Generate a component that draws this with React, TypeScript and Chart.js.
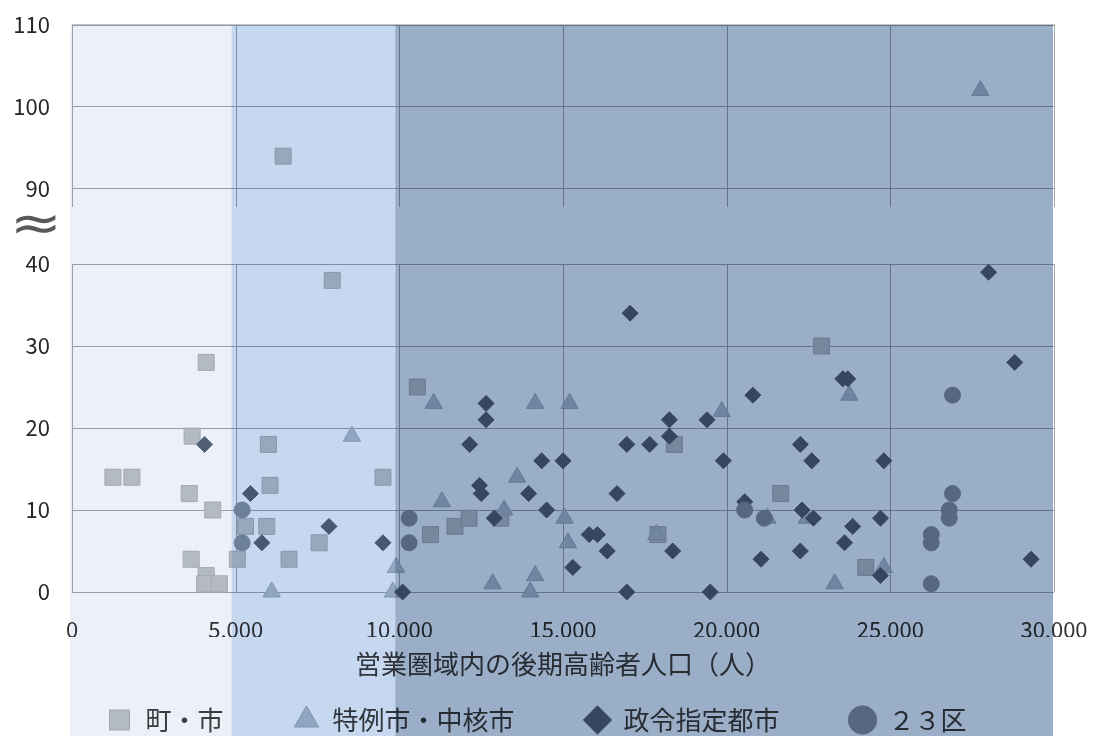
import React, { useEffect, useRef } from 'react';
import { Chart, registerables } from 'chart.js';

Chart.register(...registerables);

// ---- text ----
const seriesNames = ['町・市', '特例市・中核市', '政令指定都市', '２３区'];
const xTitle = '営業圏域内の後期高齢者人口（人）';
const breakMark = '≈';

// ---- ticks / bands ----
const xTickValues = [0, 5000, 10000, 15000, 20000, 25000, 30000];
const lowerTicks = [0, 10, 20, 30, 40];
const upperTicks = [90, 100, 110];
const bandEdges = [0, 5000, 10000, 30000];

// ---- data: [x, y] ----
const townPts: [number, number][] = [
  [1250, 14], [1830, 14], [4100, 28], [3670, 19], [3580, 12], [4300, 10], [3640, 4], [4100, 2],
  [4050, 1], [4500, 1], [5050, 4], [5300, 8], [5950, 8], [6000, 18], [6050, 13], [6630, 4],
  [7550, 6], [7950, 38], [9500, 14], [10550, 25], [10950, 7], [11700, 8], [12130, 9], [13100, 9],
  [18400, 18], [17900, 7], [21650, 12], [22900, 30], [24250, 3],
];
const townUpper: [number, number][] = [[6450, 94]];

const corePts: [number, number][] = [
  [8550, 19], [6100, 0], [9900, 3], [9800, 0], [11050, 23], [14150, 23], [15200, 23], [19850, 22],
  [13600, 14], [11300, 11], [13200, 10], [15050, 9], [15150, 6], [12850, 1], [14150, 2], [14000, 0],
  [17850, 7], [23750, 24], [21250, 9], [22450, 9], [23300, 1], [24800, 3],
];
const coreUpper: [number, number][] = [[27750, 102]];

const designatedPts: [number, number][] = [
  [4050, 18], [5450, 12], [5800, 6], [7850, 8], [9500, 6], [10100, 0], [12650, 23], [12650, 21],
  [12150, 18], [12450, 13], [12500, 12], [14350, 16], [15000, 16], [13950, 12], [14500, 10], [12900, 9],
  [15300, 3], [15800, 7], [16050, 7], [16350, 5], [16650, 12], [17050, 34], [16950, 18], [17650, 18],
  [18250, 21], [18250, 19], [16950, 0], [18350, 5], [19400, 21], [19500, 0], [19900, 16], [20800, 24],
  [20550, 11], [21050, 4], [28000, 39], [28800, 28], [23550, 26], [23700, 26], [22250, 18], [22600, 16],
  [24800, 16], [22300, 10], [22650, 9], [23850, 8], [24700, 9], [23600, 6], [22250, 5], [24700, 2],
  [29300, 4],
];

const wardPts: [number, number][] = [
  [5200, 10], [5200, 6], [10300, 9], [10300, 6], [20550, 10], [21150, 9], [26900, 24], [26900, 12],
  [26800, 10], [26800, 9], [26250, 7], [26250, 6], [26250, 1],
];

const toXY = (arr: [number, number][]) => arr.map(([x, y]) => ({ x, y }));

const GRID = '#A3A8AF';
const FONT = "'Noto Sans CJK JP', 'Noto Sans', sans-serif";

const styles = {
  town: { pointStyle: 'rect', pointRadius: 11.3, backgroundColor: '#C3C6CA', borderColor: '#AEB2B8', borderWidth: 1, order: 4 },
  core: { pointStyle: 'triangle', pointRadius: 10, backgroundColor: '#BAC3CF', borderColor: '#A7B1BE', borderWidth: 1, order: 3 },
  desig: { pointStyle: 'rectRot', pointRadius: 8, backgroundColor: '#58667A', borderColor: '#58667A', borderWidth: 1, order: 2 },
  ward: { pointStyle: 'circle', pointRadius: 8, backgroundColor: '#8C97A5', borderColor: '#8C97A5', borderWidth: 1, order: 1 },
};

const decorPlugin = {
  id: 'decor',
  beforeDraw(chart: any) {
    const { ctx } = chart;
    ctx.save();
    ctx.fillStyle = '#ffffff';
    ctx.fillRect(0, 0, chart.width, chart.height);
    ctx.restore();
  },
  beforeDatasetsDraw(chart: any) {
    const { ctx } = chart;
    const xs = chart.scales.x;
    ctx.save();
    ctx.strokeStyle = GRID;
    ctx.lineWidth = 1;
    for (const id of ['yTop', 'y']) {
      const s = chart.scales[id];
      for (const v of xTickValues) {
        const px = Math.round(xs.getPixelForValue(v)) + 0.5;
        ctx.beginPath();
        ctx.moveTo(px, s.top);
        ctx.lineTo(px, s.bottom);
        ctx.stroke();
      }
    }
    // light outer frame line just above the upper panel
    const t = chart.scales.yTop;
    ctx.strokeStyle = '#C4C4C4';
    ctx.beginPath();
    ctx.moveTo(xs.left, t.top - 0.5);
    ctx.lineTo(xs.right + 1, t.top - 0.5);
    ctx.stroke();
    ctx.restore();
  },
  afterDraw(chart: any) {
    const { ctx, chartArea } = chart;
    const xs = chart.scales.x;
    const g = chart.scales.gap;
    ctx.save();
    ctx.fillStyle = '#595959';
    ctx.font = "48px 'DejaVu Sans'";
    ctx.textAlign = 'center';
    ctx.textBaseline = 'middle';
    ctx.translate(36, g.top + 20);
    ctx.scale(1.3, 1.05);
    ctx.fillText(breakMark, 0, 0);
    ctx.restore();

    const cols = ['#ECF0F8', '#C6D8EF', '#9AAEC8'];
    const shifts = [-2, -4, -4, -1];
    ctx.save();
    ctx.globalCompositeOperation = 'multiply';
    for (let i = 0; i < 3; i++) {
      const l = xs.getPixelForValue(bandEdges[i]) + shifts[i];
      const r = xs.getPixelForValue(bandEdges[i + 1]) + shifts[i + 1];
      ctx.fillStyle = cols[i];
      ctx.fillRect(l, chartArea.top, r - l, chart.height - chartArea.top);
    }
    ctx.restore();
  },
};

export default function App() {
  const ref = useRef<HTMLCanvasElement | null>(null);
  useEffect(() => {
    if (!ref.current) return;
    Chart.defaults.font.family = FONT;
    const setW = (s: any) => { s.width = 72; };
    const yCommon = {
      type: 'linear',
      position: 'left',
      stack: 'v',
      grid: { color: GRID, lineWidth: 1, drawTicks: true, tickLength: 22, tickColor: 'rgba(0,0,0,0)' },
      border: { display: false },
      ticks: { padding: 0, font: { size: 22 }, color: '#262626' },
      afterFit: setW,
    };
    const chart = new Chart(ref.current, {
      type: 'scatter',
      data: {
        datasets: [
          { label: seriesNames[0], data: toXY(townPts), yAxisID: 'y', clip: false, ...styles.town },
          { label: seriesNames[1], data: toXY(corePts), yAxisID: 'y', clip: false, ...styles.core },
          { label: seriesNames[2], data: toXY(designatedPts), yAxisID: 'y', clip: false, ...styles.desig },
          { label: seriesNames[3], data: toXY(wardPts), yAxisID: 'y', clip: false, ...styles.ward },
          { label: seriesNames[0], data: toXY(townUpper), yAxisID: 'yTop', clip: false, ...styles.town },
          { label: seriesNames[1], data: toXY(coreUpper), yAxisID: 'yTop', clip: false, ...styles.core },
        ] as any,
      },
      options: {
        responsive: false,
        animation: false,
        devicePixelRatio: 1,
        layout: { padding: { top: 25, right: 20, left: 0, bottom: 0 } },
        plugins: {
          tooltip: { enabled: false },
          legend: {
            position: 'bottom',
            maxHeight: 99,
            labels: {
              usePointStyle: true,
              boxHeight: 20,
              padding: 70,
              color: '#404040',
              font: { size: 26 },
              filter: (item: any) => item.datasetIndex < 4,
              sort: (a: any, b: any) => a.datasetIndex - b.datasetIndex,
            },
          },
        },
        scales: {
          x: {
            type: 'linear',
            min: 0,
            max: 30000,
            afterBuildTicks: (s: any) => { s.ticks = xTickValues.map((v) => ({ value: v })); },
            grid: { display: false, drawTicks: true, tickLength: 24 },
            border: { display: false },
            ticks: {
              padding: 0,
              maxRotation: 0,
              font: { size: 22 },
              color: '#333333',
              callback: (v: any) => Number(v).toLocaleString('en-US'),
            },
            title: { display: true, text: xTitle, color: '#404040', font: { size: 26 }, padding: { top: 0, bottom: -43 } },
            afterFit: (s: any) => { s.height = 45; },
          },
          y: {
            ...yCommon,
            stackWeight: 328,
            min: 0,
            max: 40,
            afterBuildTicks: (s: any) => { s.ticks = lowerTicks.map((v) => ({ value: v })); },
          },
          gap: {
            type: 'linear',
            position: 'left',
            stack: 'v',
            stackWeight: 57,
            min: 0,
            max: 1,
            grid: { display: false, drawTicks: false },
            border: { display: false },
            ticks: { display: false },
            afterFit: setW,
          },
          yTop: {
            ...yCommon,
            stackWeight: 182,
            min: 87.8,
            max: 110,
            afterBuildTicks: (s: any) => { s.ticks = upperTicks.map((v) => ({ value: v })); },
          },
          rightSpacer: {
            type: 'linear',
            position: 'right',
            min: 0,
            max: 1,
            grid: { display: false, drawTicks: false },
            border: { display: false },
            ticks: { display: false },
            afterFit: (s: any) => { s.width = 19; },
          },
        } as any,
      },
      plugins: [decorPlugin],
    } as any);
    return () => chart.destroy();
  }, []);

  return (
    <div style={{ position: 'absolute', left: 0, top: 0, width: 1093, height: 736 }}>
      <canvas ref={ref} width={1093} height={736} style={{ display: 'block' }} />
    </div>
  );
}
